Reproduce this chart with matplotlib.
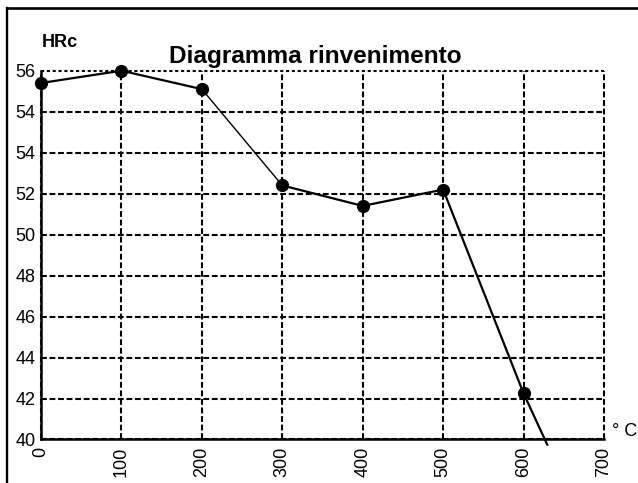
import numpy as np
import matplotlib
matplotlib.use("Agg")
from matplotlib import pyplot as plt
from matplotlib.lines import Line2D

plt.rcParams['font.family'] = ['Liberation Sans', 'DejaVu Sans']

# tempering temperature (C) and hardness position on the chart scale
temps = [0, 100, 200, 300, 400, 500, 600]
hardness = [57.4, 58.0, 57.1, 52.4, 51.4, 52.2, 42.25]
# the curve keeps going past the last measured point, below the axis
tail_temp = 630
tail_hardness = 39.7

x_ticks = [0, 100, 200, 300, 400, 500, 600, 700]
y_ticks = [40, 42, 44, 46, 48, 50, 52, 54, 56, 58]
y_tick_labels = ['40', '42', '44', '46', '48', '50', '52', '54', '54', '56']

# segment widths: the 200-300 stretch is drawn thinner in the original
seg_widths = [1.6, 1.6, 1.0, 1.6, 1.6, 1.6, 1.6]

fig = plt.figure(figsize=(6.38, 4.83), dpi=100)
ax = fig.add_axes([0.0643, 0.0901, 0.8824, 0.7635])

ax.set_xlim(0, 700)
ax.set_ylim(40, 58)
ax.set_xticks(x_ticks)
ax.set_xticklabels([str(t) for t in x_ticks], rotation=90, fontsize=13)
ax.set_yticks(y_ticks)
ax.set_yticklabels(y_tick_labels, fontsize=13)
ax.tick_params(axis='both', length=0, colors='black')
ax.tick_params(axis='y', pad=4.0)
ax.tick_params(axis='x', pad=5.5)

ax.grid(True, color='black', linewidth=1.5, linestyle=(0, (2.8, 1.3)))
ax.set_axisbelow(True)
for gl in ax.xaxis.get_gridlines() + ax.yaxis.get_gridlines():
    gl.set_clip_on(False)
# top line of the grid is more dotted than the rest
ax.yaxis.get_gridlines()[-1].set_linestyle((0, (1.5, 1.3)))

ax.spines['top'].set_visible(False)
ax.spines['right'].set_visible(False)
ax.spines['left'].set_linewidth(1.8)
ax.spines['bottom'].set_linewidth(1.8)
ax.spines['left'].set_zorder(2.5)
ax.spines['bottom'].set_zorder(2.5)

xs = temps + [tail_temp]
ys = hardness + [tail_hardness]
for i in range(len(xs) - 1):
    ax.plot(xs[i:i + 2], ys[i:i + 2], color='black', lw=seg_widths[i],
            clip_on=False, zorder=3, solid_capstyle='butt')
ax.plot(temps, hardness, 'o', color='black', markersize=8.5, clip_on=False, zorder=4)

fig.text(315.5 / 638, 1 - 63.3 / 483, 'Diagramma rinvenimento', fontsize=17.6,
         fontweight='bold', ha='center', va='baseline')
fig.text(42 / 638, 1 - 46.7 / 483, 'HRc', fontsize=13, fontweight='bold',
         ha='left', va='baseline')
fig.text(612 / 638, 1 - 432 / 483, '° C', fontsize=13, ha='left', va='center')

# outer frame: only top and left edges
fig.add_artist(Line2D([6.7 / 638, 1.0], [1 - 8.3 / 483, 1 - 8.3 / 483],
                      color='black', lw=1.9, transform=fig.transFigure))
fig.add_artist(Line2D([6.7 / 638, 6.7 / 638], [0.0, 1 - 8.3 / 483],
                      color='black', lw=1.7, transform=fig.transFigure))

fig.savefig('out.png', dpi=100)
